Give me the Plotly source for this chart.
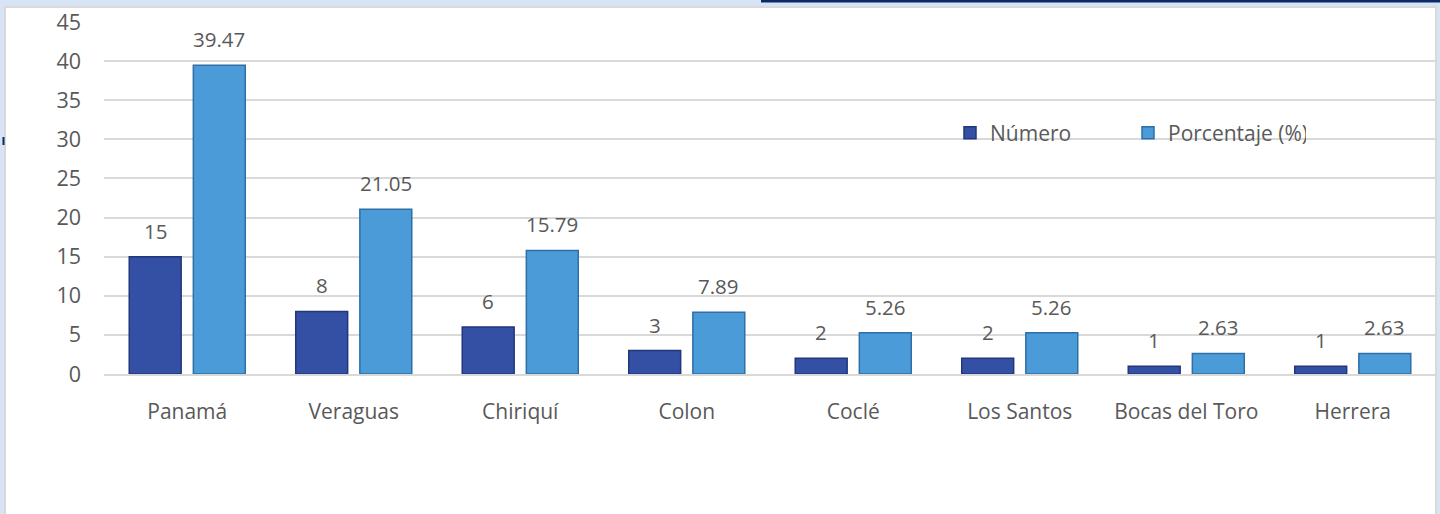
import plotly.graph_objects as go

categories = ["Panamá", "Veraguas", "Chiriquí", "Colon", "Coclé", "Los Santos", "Bocas del Toro", "Herrera"]
numero = [15, 8, 6, 3, 2, 2, 1, 1]
porcentaje = [39.47, 21.05, 15.79, 7.89, 5.26, 5.26, 2.63, 2.63]
numero_labels = ["15", "8", "6", "3", "2", "2", "1", "1"]
porcentaje_labels = ["39.47", "21.05", "15.79", "7.89", "5.26", "5.26", "2.63", "2.63"]
y_ticks = [0, 5, 10, 15, 20, 25, 30, 35, 40, 45]

FONT = "Open Sans"
TXT = "#595959"
C_NUM = "#3350a5"
C_NUM_LINE = "#22377a"
C_PCT = "#4b9bd9"
C_PCT_LINE = "#2f6fa6"

fig = go.Figure()
fig.add_trace(go.Bar(name="Número", x=categories, y=numero,
                     marker=dict(color=C_NUM, line=dict(color=C_NUM_LINE, width=1.5))))
fig.add_trace(go.Bar(name="Porcentaje (%)", x=categories, y=porcentaje,
                     marker=dict(color=C_PCT, line=dict(color=C_PCT_LINE, width=1.5))))

annotations = []
for c, v, t in zip(categories, numero, numero_labels):
    annotations.append(dict(x=c, y=v, xref="x", yref="y", text=t, showarrow=False,
                            xshift=-32, yshift=26, yanchor="middle",
                            font=dict(family=FONT, size=20.5, color=TXT)))
for c, v, t in zip(categories, porcentaje, porcentaje_labels):
    annotations.append(dict(x=c, y=v, xref="x", yref="y", text=t, showarrow=False,
                            xshift=32, yshift=26, yanchor="middle",
                            font=dict(family=FONT, size=20.5, color=TXT)))

L, R, T, B = 104, 1436, 22, 374
W, H = R - L, B - T
def px(x):
    return (x - L) / W
def py(y):
    return (B - y) / H

shapes = [
    # white panel with light gray border
    dict(type="rect", xref="paper", yref="paper", x0=px(5), x1=px(1436), y0=py(520), y1=py(7),
         fillcolor="white", line=dict(color="#d9d9d9", width=2), layer="below"),
    # navy stripe at top
    dict(type="rect", xref="paper", yref="paper", x0=px(761), x1=px(1442), y0=py(2.5), y1=py(-1),
         fillcolor="#0c2a66", line=dict(width=0), layer="below"),
    # tiny navy mark on left
    dict(type="rect", xref="paper", yref="paper", x0=px(2.5), x1=px(4.5), y0=py(145), y1=py(137),
         fillcolor="#0c2a66", line=dict(width=0), layer="below"),
]

fig.update_layout(
    width=1440, height=514,
    margin=dict(l=L, r=1440 - R, t=T, b=514 - B),
    paper_bgcolor="#d6e4f5",
    plot_bgcolor="white",
    barmode="group", bargap=0.23, bargroupgap=0.19,
    font=dict(family=FONT, size=20, color=TXT),
    showlegend=True,
    legend=dict(orientation="h", x=px(950), y=py(133), xanchor="left", yanchor="middle",
                bgcolor="rgba(0,0,0,0)", font=dict(family=FONT, size=21, color=TXT),
                entrywidth=133, itemwidth=30, traceorder="normal"),
    annotations=annotations,
    shapes=shapes,
    xaxis=dict(showgrid=False, showline=True, linecolor="#d9d9d9", linewidth=2,
               ticks="", ticklabelstandoff=18, tickfont=dict(family=FONT, size=21, color=TXT)),
    yaxis=dict(range=[0, 45], tickvals=y_ticks, showgrid=True, gridcolor="#d9d9d9", gridwidth=1.5,
               zeroline=False, showline=False, ticks="", ticklabelstandoff=22,
               tickfont=dict(family=FONT, size=21.5, color=TXT)),
)

fig.write_html("out.html")
